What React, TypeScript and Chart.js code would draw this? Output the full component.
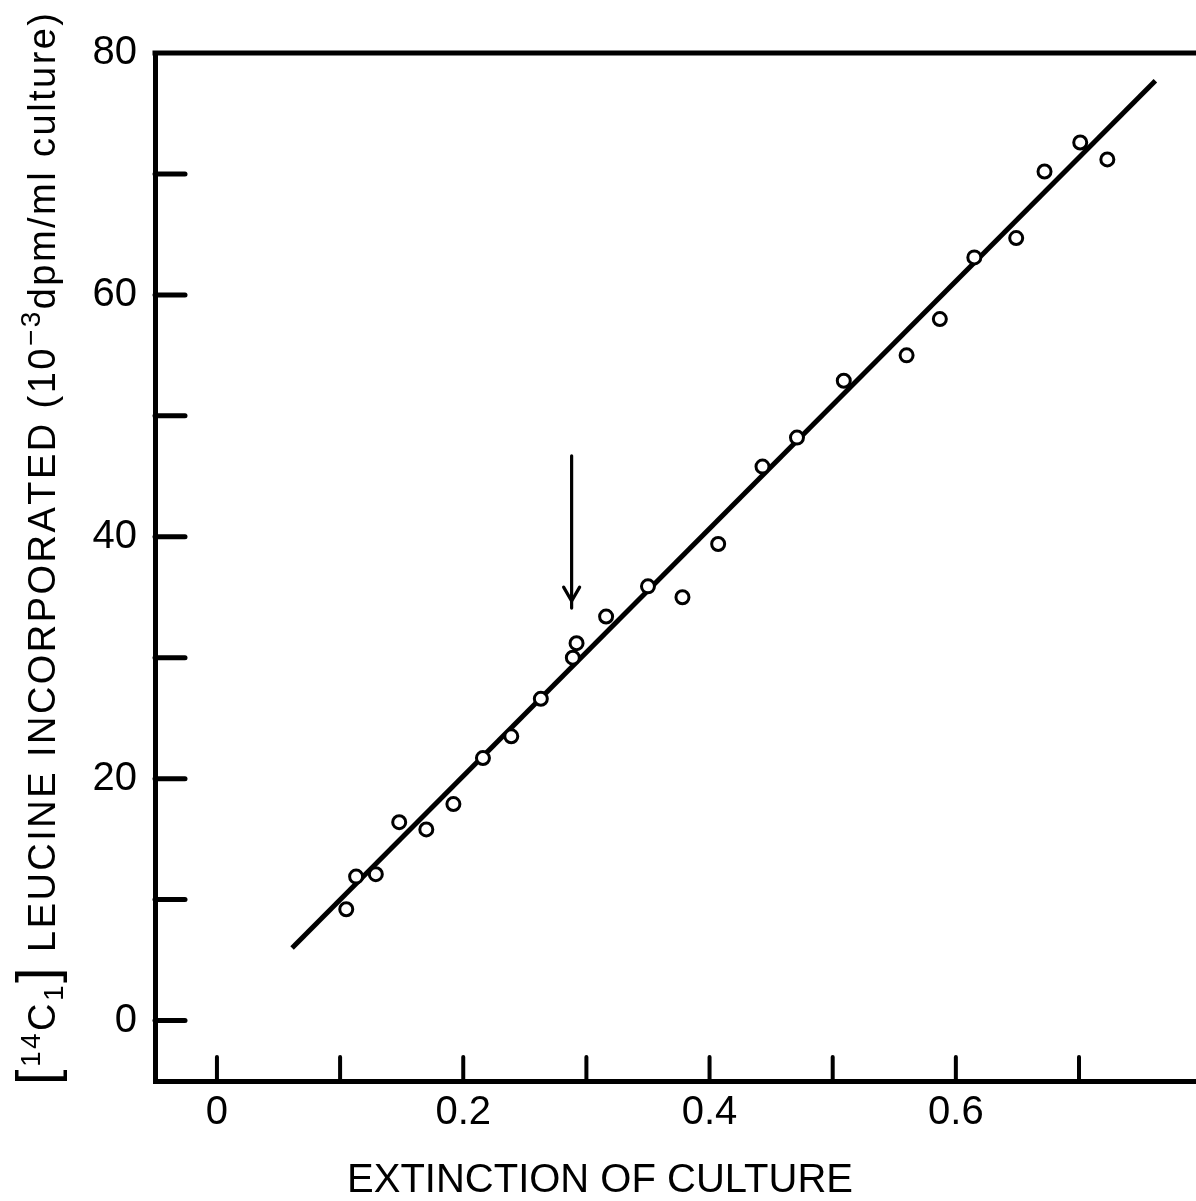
import React, { useEffect, useRef } from "react";
import { Chart, registerables } from "chart.js";

Chart.register(...registerables);

// ---- data ----
const extinction = [
  0.105, 0.113, 0.129, 0.148, 0.170, 0.192, 0.216, 0.239, 0.263, 0.289, 0.292,
  0.316, 0.350, 0.378, 0.407, 0.443, 0.471, 0.509, 0.560, 0.587, 0.615, 0.649,
  0.672, 0.701, 0.723,
];
const leucine = [
  9.2, 11.9, 12.1, 16.4, 15.8, 17.9, 21.7, 23.5, 26.6, 30.0, 31.2,
  33.4, 35.9, 35.0, 39.4, 45.8, 48.2, 52.9, 55.0, 58.0, 63.1, 64.7,
  70.2, 72.6, 71.2,
];
const fitX = [0.061, 0.762];
const fitY = [6.0, 77.7];

const xTickValues = [0, 0.1, 0.2, 0.3, 0.4, 0.5, 0.6, 0.7];
const xTickLabels = ["0", "", "0.2", "", "0.4", "", "0.6", ""];
const yTickValues = [0, 10, 20, 30, 40, 50, 60, 70, 80];
const yTickLabels = ["0", "", "20", "", "40", "", "60", "", "80"];

const xMin = -0.0503;
const xMax = 0.795;
const yMin = -5;
const yMax = 80;

const arrowX = 0.288;
const arrowFromY = 46.7;
const arrowToY = 34.1;

const xTitle = "EXTINCTION OF CULTURE";
// y title pieces: [text, kind]
const yTitleParts: [string, string][] = [
  ["[", "bracket"],
  ["14", "sup"],
  ["C", "normal"],
  ["1", "sub"],
  ["]", "bracket"],
  [" LEUCINE INCORPORATED (10", "normal"],
  ["-3", "sup"],
  ["dpm/ml culture)", "normal"],
];

const FONT = "'Liberation Sans', Arial, sans-serif";

function findLabel(values: number[], labels: string[], v: number) {
  for (let i = 0; i < values.length; i++) {
    if (Math.abs(values[i] - v) < 1e-6) return labels[i];
  }
  return "";
}

const decorPlugin = {
  id: "decor",
  beforeDatasetsDraw(chart: any) {
    const { ctx, chartArea, scales } = chart;
    const xs = scales.x;
    const ys = scales.y;
    ctx.save();
    ctx.strokeStyle = "#000";
    // top frame line
    ctx.lineWidth = 5;
    ctx.lineCap = "butt";
    ctx.beginPath();
    ctx.moveTo(chartArea.left - 2.5, chartArea.top);
    ctx.lineTo(chartArea.right, chartArea.top);
    ctx.stroke();
    // inward x ticks
    ctx.lineWidth = 4;
    ctx.lineCap = "round";
    for (const v of xTickValues) {
      const px = xs.getPixelForValue(v);
      ctx.beginPath();
      ctx.moveTo(px, chartArea.bottom);
      ctx.lineTo(px, chartArea.bottom - 24);
      ctx.stroke();
    }
    // inward y ticks
    ctx.lineWidth = 5;
    for (const v of yTickValues) {
      if (v >= yMax) continue;
      const py = ys.getPixelForValue(v);
      ctx.beginPath();
      ctx.moveTo(chartArea.left, py);
      ctx.lineTo(chartArea.left + 30, py);
      ctx.stroke();
    }
    ctx.restore();
  },
  afterDatasetsDraw(chart: any) {
    const { ctx, scales } = chart;
    const px = scales.x.getPixelForValue(arrowX);
    const y0 = scales.y.getPixelForValue(arrowFromY);
    const y1 = scales.y.getPixelForValue(arrowToY);
    ctx.save();
    ctx.strokeStyle = "#000";
    ctx.lineWidth = 3.2;
    ctx.lineCap = "round";
    ctx.beginPath();
    ctx.moveTo(px, y0);
    ctx.lineTo(px, y1);
    ctx.stroke();
    const tip = y1 - 7;
    ctx.beginPath();
    ctx.moveTo(px - 8, tip - 14);
    ctx.lineTo(px, tip);
    ctx.lineTo(px + 8, tip - 14);
    ctx.stroke();
    ctx.restore();
  },
  afterDraw(chart: any) {
    const { ctx } = chart;
    ctx.save();
    ctx.fillStyle = "#000";
    // x title
    ctx.font = `40px ${FONT}`;
    ctx.textAlign = "center";
    ctx.textBaseline = "alphabetic";
    ctx.fillText(xTitle, 600, 1192);

    // y title, rotated, drawn char by char with spacing
    const base = 38;
    const sizeFor = (kind: string) =>
      kind === "bracket" ? 56 : kind === "sup" || kind === "sub" ? 28 : base;
    const offFor = (kind: string) =>
      kind === "sup" ? -15 : kind === "sub" ? 8 : 0;
    const chars: { c: string; kind: string; w: number }[] = [];
    for (const [t, kind] of yTitleParts) {
      ctx.font = `${sizeFor(kind)}px ${FONT}`;
      for (const c of t) {
        const ch = c === "-" ? "\u2212" : c;
        chars.push({ c: ch, kind, w: ctx.measureText(ch).width });
      }
    }
    const natural = chars.reduce((s, o) => s + o.w, 0);
    const target = 1072;
    const spacing = (target - natural) / (chars.length - 1);
    const cx = 55;
    const cy = 549;
    ctx.translate(cx, cy);
    ctx.rotate(-Math.PI / 2);
    ctx.textAlign = "left";
    let pos = -target / 2;
    for (const o of chars) {
      ctx.font = `${sizeFor(o.kind)}px ${FONT}`;
      ctx.fillText(o.c, pos, offFor(o.kind));
      pos += o.w + spacing;
    }
    ctx.restore();
  },
};

export default function App() {
  const ref = useRef<HTMLCanvasElement | null>(null);

  useEffect(() => {
    document.body.style.margin = "0";
    const canvas = ref.current;
    if (!canvas) return;
    const points = extinction.map((x, i) => ({ x, y: leucine[i] }));
    const fit = fitX.map((x, i) => ({ x, y: fitY[i] }));
    const chart = new Chart(canvas, {
      type: "scatter",
      data: {
        datasets: [
          {
            data: points,
            pointRadius: 6.5,
            pointBorderWidth: 3,
            pointBackgroundColor: "#fff",
            pointBorderColor: "#000",
            order: 1,
          },
          {
            data: fit,
            showLine: true,
            borderColor: "#000",
            borderWidth: 5,
            pointRadius: 0,
            order: 2,
          } as any,
        ],
      },
      options: {
        responsive: false,
        animation: false,
        devicePixelRatio: 1,
        layout: { autoPadding: false, padding: { top: 53, right: 0, left: 0, bottom: 0 } },
        plugins: {
          legend: { display: false },
          tooltip: { enabled: false },
        },
        scales: {
          x: {
            type: "linear",
            position: "bottom",
            min: xMin,
            max: xMax,
            afterBuildTicks: (s: any) => {
              s.ticks = xTickValues.map((v) => ({ value: v }));
            },
            afterFit: (s: any) => {
              s.height = 120;
              s.paddingLeft = 0;
              s.paddingRight = 0;
            },
            grid: { display: false, drawTicks: false, tickLength: 0 },
            border: { display: true, color: "#000", width: 5 },
            ticks: {
              autoSkip: false,
              maxRotation: 0,
              padding: 8,
              color: "#000",
              font: { family: FONT, size: 40 },
              callback: (v: any) => findLabel(xTickValues, xTickLabels, Number(v)),
            },
          },
          y: {
            type: "linear",
            min: yMin,
            max: yMax,
            afterBuildTicks: (s: any) => {
              s.ticks = yTickValues.map((v) => ({ value: v }));
            },
            afterFit: (s: any) => {
              s.width = 155;
            },
            grid: { display: false, drawTicks: false, tickLength: 0 },
            border: { display: true, color: "#000", width: 5 },
            ticks: {
              autoSkip: false,
              padding: 18,
              color: "#000",
              font: { family: FONT, size: 40 },
              callback: (v: any) => findLabel(yTickValues, yTickLabels, Number(v)),
            },
          },
        },
      } as any,
      plugins: [decorPlugin],
    });
    return () => chart.destroy();
  }, []);

  return (
    <div style={{ position: "absolute", left: 0, top: 0, width: 1196, height: 1201, background: "#fff" }}>
      <canvas ref={ref} width={1196} height={1201} style={{ width: 1196, height: 1201, display: "block" }} />
    </div>
  );
}
